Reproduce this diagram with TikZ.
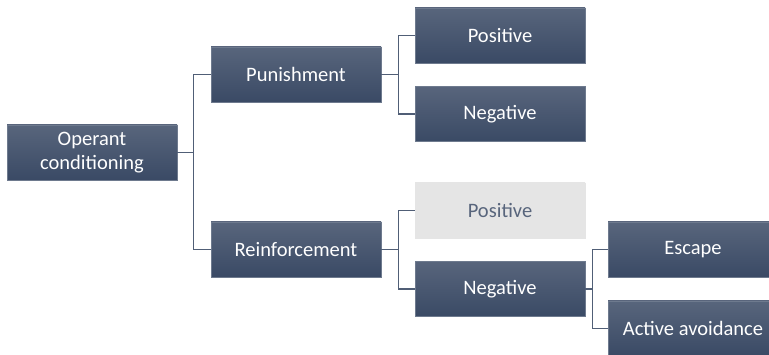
\documentclass[tikz,border=0pt]{standalone}
\usepackage{fontspec}
\setmainfont{Carlito}
\usepackage{xcolor}
\usetikzlibrary{positioning}
\definecolor{boxtop}{RGB}{88,101,124}
\definecolor{boxbot}{RGB}{58,74,101}
\definecolor{boxline}{RGB}{110,122,142}
\definecolor{link}{RGB}{80,94,118}
\definecolor{paletext}{RGB}{88,101,124}
\tikzset{
box/.style={rectangle, minimum width=170pt, minimum height=55pt, inner sep=0pt,
  top color=boxtop, bottom color=boxbot, draw=boxline, line width=0.6pt,
  text=white, align=center, font=\fontsize{20.5}{24}\selectfont},
pale box/.style={box, top color=black!10, bottom color=black!10, draw=black!10, text=paletext},
link/.style={draw=link, line width=1.4pt}
}

\begin{document}
\begin{tikzpicture}[x=1pt, y=-1pt]
  \useasboundingbox (0,0) rectangle (769,355);
  \begin{scope}
  \clip (0,0) rectangle (769,355);
  \node[box] (oc) at (92,152.5) {Operant\\conditioning};
  \node[box] (pun) at (296,74.5) {Punishment};
  \node[box] (rein) at (296,249.5) {Reinforcement};
  \node[box] (ppos) at (500,35.5) {Positive};
  \node[box] (pneg) at (500,114) {Negative};
  \node[pale box] (rpos) at (500,210.5) {Positive};
  \node[box] (rneg) at (500,289) {Negative};
  \node[box] (esc) at (693,249.5) {Escape};
  \node[box] (avoid) at (693,328.5) {Active avoidance};
  % connectors
  \draw[link] (oc.east) -- ++(16,0) |- (pun.west);
  \draw[link] (oc.east) -- ++(16,0) |- (rein.west);
  \draw[link] (pun.east) -- ++(17,0) |- (ppos.west);
  \draw[link] (pun.east) -- ++(17,0) |- (pneg.west);
  \draw[link] (rein.east) -- ++(17,0) |- (rpos.west);
  \draw[link] (rein.east) -- ++(17,0) |- (rneg.west);
  \draw[link] (rneg.east) -- ++(7,0) |- (esc.west);
  \draw[link] (rneg.east) -- ++(7,0) |- (avoid.west);
  \end{scope}
\end{tikzpicture}
\end{document}
